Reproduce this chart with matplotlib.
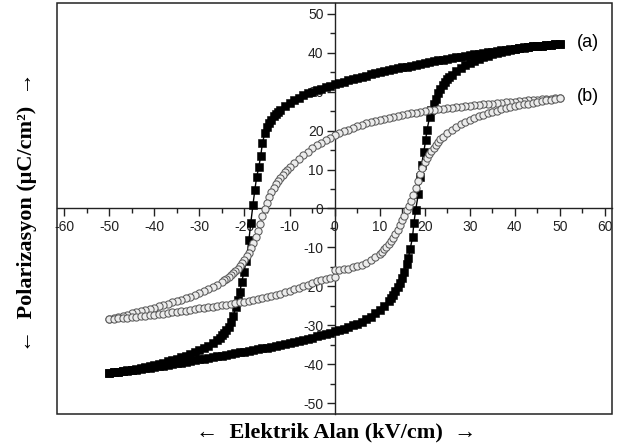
import matplotlib
matplotlib.use("Agg")
import matplotlib.pyplot as plt
from matplotlib.ticker import MultipleLocator
from matplotlib.patches import Rectangle

plt.rcParams["axes.unicode_minus"] = False

# ---------------- data ----------------
# (a) descending-field branch (upper)
a_up_x = [50, 49, 48, 47, 46, 45, 44, 43, 42, 41, 40, 39, 38, 37, 36, 35, 34, 33, 32, 31,
          30, 29, 28, 27, 26, 25, 24, 23, 22, 21, 20, 19, 18, 17, 16, 15, 14, 13, 12, 11,
          10, 9, 8, 7, 6, 5, 4, 3, 2, 1, 0, -1, -2, -3, -4, -5, -6, -7, -8, -9, -10, -11,
          -12, -12.5, -13, -13.5, -14, -14.5, -15, -15.5, -16, -16.4, -16.8, -17.3, -17.7,
          -18.1, -18.6, -19.0, -19.6, -20.1, -20.6, -21.0, -21.5, -21.9, -22.5, -23, -23.5,
          -24, -24.5, -25, -25.5, -26, -27, -28, -29, -30, -31, -32, -33, -34, -35, -36, -37,
          -38, -39, -40, -41, -42, -43, -44, -45, -46, -47, -48, -49, -50]
a_up_y = [42.2, 42.1, 42.0, 41.9, 41.8, 41.7, 41.55, 41.4, 41.3, 41.15, 41.0, 40.85, 40.7,
          40.55, 40.4, 40.2, 40.05, 39.9, 39.7, 39.5, 39.3, 39.15, 38.95, 38.75, 38.6, 38.4,
          38.2, 38.0, 37.8, 37.55, 37.3, 37.1, 36.9, 36.65, 36.4, 36.2, 35.95, 35.7, 35.45,
          35.2, 35.0, 34.7, 34.4, 34.1, 33.8, 33.5, 33.2, 32.85, 32.5, 32.15, 31.8, 31.45,
          31.1, 30.7, 30.35, 30.0, 29.5, 29.0, 28.4, 27.7, 27.0, 26.2, 25.3, 24.8, 24.2,
          23.6, 22.8, 21.9, 20.8, 19.3, 16.8, 13.4, 10.7, 8.0, 4.7, 1.0, -3.8, -8.0, -13.4,
          -16.3, -18.8, -21.3, -23.5, -25.2, -27.6, -29.2, -30.3, -31.2, -31.9, -32.5, -33.1,
          -33.6, -34.5, -35.2, -35.8, -36.3, -36.8, -37.3, -37.7, -38.1, -38.5, -38.9, -39.2,
          -39.5, -39.8, -40.1, -40.35, -40.6, -40.85, -41.1, -41.3, -41.5, -41.7, -41.9,
          -42.05, -42.2]

# (a) ascending-field branch (lower)
a_lo_x = [-50, -49, -48, -47, -46, -45, -44, -43, -42, -41, -40, -39, -38, -37, -36, -35,
          -34, -33, -32, -31, -30, -29, -28, -27, -26, -25, -24, -23, -22, -21, -20, -19,
          -18, -17, -16, -15, -14, -13, -12, -11, -10, -9, -8, -7, -6, -5, -4, -3, -2, -1,
          0, 1, 2, 3, 4, 5, 6, 7, 8, 9, 10, 11, 12, 12.5, 13, 13.5, 14, 14.5, 15, 15.5, 16,
          16.4, 16.8, 17.3, 17.6, 18.0, 18.6, 19.0, 19.3, 19.8, 20.2, 20.5, 21.1, 21.5, 22.0,
          22.5, 23, 23.5, 24, 24.5, 25, 25.5, 26, 27, 28, 29, 30, 31, 32, 33, 34, 35, 36, 37,
          38, 39, 40, 41, 42, 43, 44, 45, 46, 47, 48, 49, 50]
a_lo_y = [-42.2, -42.05, -41.9, -41.75, -41.6, -41.45, -41.3, -41.15, -41.0, -40.85, -40.7,
          -40.5, -40.3, -40.1, -39.9, -39.7, -39.5, -39.3, -39.1, -38.9, -38.7, -38.5, -38.3,
          -38.1, -37.9, -37.7, -37.5, -37.3, -37.1, -36.9, -36.7, -36.5, -36.3, -36.1, -35.9,
          -35.7, -35.5, -35.3, -35.05, -34.8, -34.55, -34.3, -34.0, -33.7, -33.4, -33.1,
          -32.8, -32.5, -32.2, -31.85, -31.5, -31.15, -30.8, -30.4, -30.0, -29.5, -29.0,
          -28.4, -27.7, -26.9, -26.0, -24.9, -23.6, -22.9, -22.1, -21.2, -20.2, -19.1, -17.8,
          -16.2, -14.3, -12.6, -10.3, -7.3, -3.8, -0.3, 3.8, 8.1, 11.1, 14.5, 17.5, 20.1,
          23.5, 25.2, 26.9, 28.2, 29.5, 30.6, 31.6, 32.4, 33.1, 33.7, 34.3, 35.3, 36.1, 36.8,
          37.4, 37.9, 38.4, 38.8, 39.2, 39.5, 39.8, 40.1, 40.4, 40.6, 40.85, 41.05, 41.25,
          41.4, 41.55, 41.7, 41.8, 41.9, 42.0, 42.1, 42.2]

# (b) descending-field branch (upper)
b_up_x = [50, 49, 48, 47, 46, 45, 44, 43, 42, 41, 40, 39, 38, 37, 36, 35, 34, 33, 32, 31,
          30, 29, 28, 27, 26, 25, 24, 23, 22, 21, 20, 19, 18, 17, 16, 15, 14, 13, 12, 11,
          10, 9, 8, 7, 6, 5, 4, 3, 2, 1, 0, -1, -2, -3, -4, -5, -6, -7, -8, -9, -10, -10.5,
          -11, -11.5, -12, -12.5, -13, -13.5, -14, -14.5, -15, -15.5, -16, -16.5, -17, -17.5,
          -18, -18.5, -19, -19.5, -20, -20.5, -21, -21.5, -22, -22.5, -23, -23.5, -24, -24.5,
          -25, -26, -27, -28, -29, -30, -31, -32, -33, -34, -35, -36, -37, -38, -39, -40,
          -41, -42, -43, -44, -45, -46, -47, -48, -49, -50]
b_up_y = [28.4, 28.3, 28.2, 28.1, 28.0, 27.9, 27.8, 27.7, 27.6, 27.5, 27.4, 27.3, 27.2,
          27.1, 27.0, 26.9, 26.8, 26.7, 26.6, 26.5, 26.4, 26.3, 26.15, 26.0, 25.9, 25.75,
          25.6, 25.45, 25.3, 25.15, 25.0, 24.8, 24.6, 24.4, 24.2, 24.0, 23.8, 23.55, 23.3,
          23.05, 22.8, 22.5, 22.2, 21.85, 21.5, 21.1, 20.7, 20.25, 19.8, 19.3, 18.8, 18.2,
          17.6, 16.9, 16.2, 15.4, 14.6, 13.7, 12.8, 11.7, 10.6, 10.0, 9.3, 8.6, 7.9, 7.1, 6.3,
          5.3, 4.2, 3.0, 1.5, -0.2, -2.0, -3.9, -5.8, -7.4, -8.8, -10.1, -11.3, -12.3, -13.2,
          -14.0, -14.8, -15.4, -16.0, -16.6, -17.1, -17.6, -18.0, -18.4, -18.8, -19.5, -20.1,
          -20.7, -21.2, -21.7, -22.2, -22.6, -23.0, -23.4, -23.8, -24.1, -24.5, -24.8, -25.1,
          -25.4, -25.7, -26.0, -26.3, -26.6, -26.9, -27.2, -27.5, -27.8, -28.05, -28.3]

# (b) ascending-field branch (lower)
b_lo_x = [-50, -49, -48, -47, -46, -45, -44, -43, -42, -41, -40, -39, -38, -37, -36, -35,
          -34, -33, -32, -31, -30, -29, -28, -27, -26, -25, -24, -23, -22, -21, -20, -19,
          -18, -17, -16, -15, -14, -13, -12, -11, -10, -9, -8, -7, -6, -5, -4, -3, -2, -1,
          0, 0, 1, 2, 3, 4, 5, 6, 7, 8, 9, 10, 10.5, 11, 11.5, 12, 12.5, 13, 13.5, 14, 14.5,
          15, 15.5, 16, 16.5, 17, 17.5, 18, 18.5, 19, 19.5, 20, 20.5, 21, 21.5, 22, 22.5, 23,
          23.5, 24, 25, 26, 27, 28, 29, 30, 31, 32, 33, 34, 35, 36, 37, 38, 39, 40, 41, 42,
          43, 44, 45, 46, 47, 48, 49, 50]
b_lo_y = [-28.3, -28.25, -28.2, -28.1, -28.0, -27.85, -27.7, -27.6, -27.45, -27.3, -27.2,
          -27.05, -26.95, -26.8, -26.65, -26.5, -26.35, -26.2, -26.0, -25.8, -25.6, -25.45,
          -25.3, -25.15, -25.0, -24.85, -24.7, -24.5, -24.3, -24.1, -23.9, -23.7, -23.5,
          -23.25, -23.0, -22.7, -22.4, -22.1, -21.8, -21.45, -21.1, -20.7, -20.3, -19.9,
          -19.5, -19.1, -18.7, -18.4, -18.1, -17.8, -17.5, -15.9, -15.75, -15.6, -15.4,
          -15.1, -14.8, -14.5, -13.9, -13.2, -12.5, -11.6, -11.1, -10.5, -9.8, -9.1, -8.3,
          -7.5, -6.5, -5.4, -4.2, -3.0, -1.8, -0.5, 0.7, 2.0, 3.5, 5.2, 7.0, 8.8, 10.4, 11.9,
          13.0, 14.0, 14.8, 15.6, 16.3, 17.0, 17.7, 18.3, 19.3, 20.2, 20.9, 21.6, 22.2, 22.8,
          23.3, 23.7, 24.1, 24.5, 24.8, 25.1, 25.4, 25.7, 26.0, 26.2, 26.45, 26.7, 26.9, 27.1,
          27.3, 27.5, 27.7, 27.9, 28.1, 28.3]

series_labels = ["(a)", "(b)"]
x_label = "\u2190  Elektrik Alan (kV/cm)  \u2192"
y_label = "\u2190  Polarizasyon (\u03bcC/cm\u00b2)  \u2192"

# ---------------- figure ----------------
fig = plt.figure(figsize=(6.19, 4.48), dpi=100)
ax = fig.add_axes([0.092, 0.0759, 0.897, 0.9174])

sq = dict(marker="s", ms=5.7, mfc="black", mec="black", mew=0.4,
          color="black", lw=1.0, zorder=3)
ci = dict(marker="o", ms=5.2, mfc="#ececec", mec="#5a5a5a", mew=0.75,
          color="#6a6a6a", lw=0.8, zorder=4)

ax.plot(b_up_x, b_up_y, **ci)
ax.plot(b_lo_x, b_lo_y, **ci)
ax.plot(a_up_x, a_up_y, **sq)
ax.plot(a_lo_x, a_lo_y, **sq)

ax.set_xlim(-61.6, 61.6)
ax.set_ylim(-52.7, 52.7)

# centred axes
for s in ["top", "right"]:
    ax.spines[s].set_visible(False)
ax.spines["left"].set_position(("data", 0))
ax.spines["bottom"].set_position(("data", 0))
for s in ["left", "bottom"]:
    ax.spines[s].set_linewidth(1.0)
    ax.spines[s].set_color("#222222")
    ax.spines[s].set_zorder(2)

# outer frame
ax.add_patch(Rectangle((0, 0), 1, 1, transform=ax.transAxes, fill=False,
                       lw=1.1, ec="#222222", clip_on=False, zorder=5))

ax.xaxis.set_major_locator(MultipleLocator(10))
ax.xaxis.set_minor_locator(MultipleLocator(5))
ax.yaxis.set_major_locator(MultipleLocator(10))
ax.yaxis.set_minor_locator(MultipleLocator(5))
ax.tick_params(axis="x", which="major", direction="out", length=6, width=1.0,
               pad=2, labelsize=10, colors="#222222")
ax.tick_params(axis="x", which="minor", direction="out", length=3.5, width=1.0,
               colors="#222222")
ax.tick_params(axis="y", which="major", direction="out", length=6, width=1.0,
               pad=2, labelsize=10, colors="#222222")
ax.tick_params(axis="y", which="minor", direction="out", length=3.5, width=1.0,
               colors="#222222")
for lab in ax.get_xticklabels() + ax.get_yticklabels():
    lab.set_family(["Liberation Sans", "DejaVu Sans"])

ax.text(56.2, 42.6, series_labels[0], fontsize=13, ha="center", va="center",
        family=["Liberation Sans", "DejaVu Sans"])
ax.text(56.2, 28.6, series_labels[1], fontsize=13, ha="center", va="center",
        family=["Liberation Sans", "DejaVu Sans"])

fig.text(0.543, 0.034, x_label, ha="center", va="center", fontsize=16,
         fontweight="bold", family=["Liberation Serif", "DejaVu Serif"])
fig.text(0.044, 0.526, y_label, ha="center", va="center", fontsize=16,
         fontweight="bold", rotation=90, family=["Liberation Serif", "DejaVu Serif"])

fig.savefig("out.png", dpi=100)
